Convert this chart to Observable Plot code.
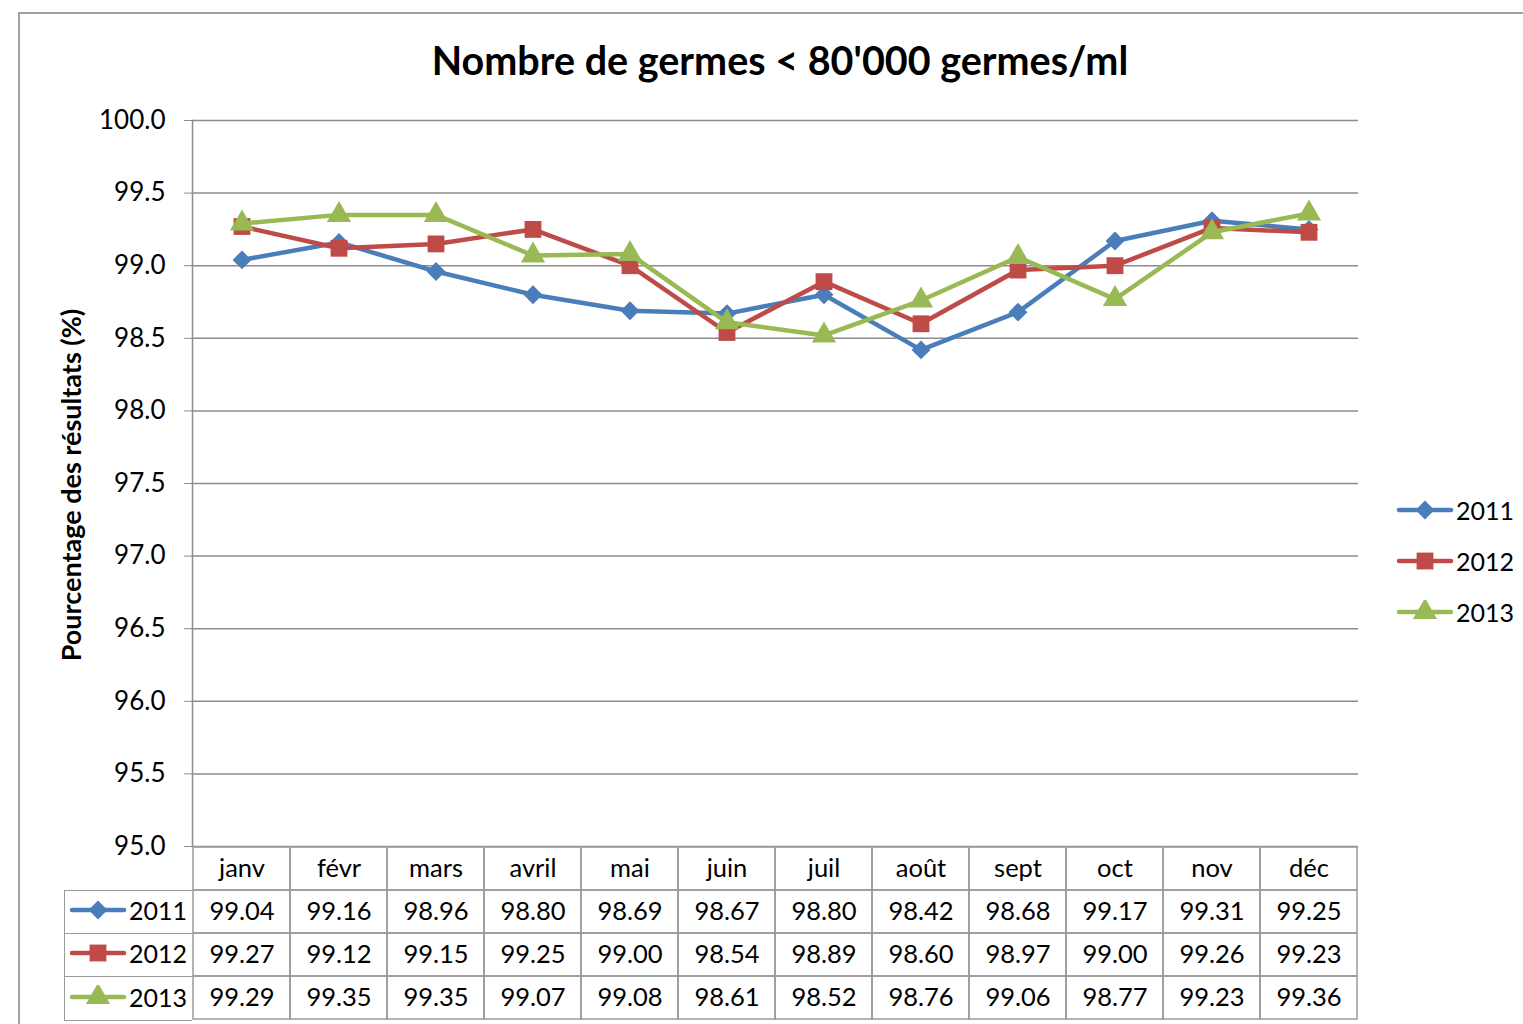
<!DOCTYPE html>
<html><head><meta charset="utf-8">
<script src="https://cdn.jsdelivr.net/npm/d3@7"></script>
<script src="https://cdn.jsdelivr.net/npm/@observablehq/plot@0.6"></script>
<style>
body{margin:0;background:#fff;font-family:Lato,"Open Sans",sans-serif;}
#root{position:relative;width:1523px;height:1024px;overflow:hidden;background:#fff;}
.abs{position:absolute;}
#frame{left:18px;top:12px;width:1600px;height:1100px;border-left:2px solid #a0a0a0;border-top:2px solid #a0a0a0;}
#title{left:0;width:1560px;top:36px;text-align:center;font-weight:bold;font-size:39.5px;color:#000;}
#ylabel{left:70px;top:485px;transform:translate(-50%,-50%) rotate(-90deg);white-space:nowrap;font-weight:bold;font-size:27px;color:#000;}
.key{display:flex;align-items:center;font-size:25px;color:#000;}
#tleft{left:64px;top:890px;width:128px;}
#tleft .key{height:43.5px;box-sizing:border-box;border:1.5px solid #9a9a9a;border-right:none;border-top:none;padding-left:4px;padding-bottom:3px;}
#tleft .key:first-child{border-top:1.5px solid #9a9a9a;}
#legend{left:1396px;top:484px;}
#legend .key{height:51px;}
</style>
</head><body>
<div id="root">
  <div id="frame" class="abs"></div>
  <div id="title" class="abs">Nombre de germes &lt; 80'000 germes/ml</div>
  <div id="ylabel" class="abs">Pourcentage des résultats (%)</div>
  <div id="chart" class="abs" style="left:0;top:0"></div>
  <div id="table" class="abs" style="left:0;top:846px"></div>
  <div id="tleft" class="abs"></div>
  <div id="legend" class="abs"></div>
</div>
<script>
const months = ["janv","févr","mars","avril","mai","juin","juil","août","sept","oct","nov","déc"];
const years = ["2011","2012","2013"];
const v2011 = [99.04,99.16,98.96,98.80,98.69,98.67,98.80,98.42,98.68,99.17,99.31,99.25];
const v2012 = [99.27,99.12,99.15,99.25,99.00,98.54,98.89,98.60,98.97,99.00,99.26,99.23];
const v2013 = [99.29,99.35,99.35,99.07,99.08,98.61,98.52,98.76,99.06,98.77,99.23,99.36];
const yTicks = [95.0,95.5,96.0,96.5,97.0,97.5,98.0,98.5,99.0,99.5,100.0];
const colors = ["#4A7EBB","#BE4B48","#98B954"];
const symbols = ["diamond2","square","triangle"];
const markerR = {"2011":8.5,"2012":9.5,"2013":9};

const seriesValues = [v2011, v2012, v2013];
const data = years.flatMap((yr, i) => months.map((m, j) => ({year: yr, month: m, value: seriesValues[i][j]})));

const seriesMarks = years.flatMap(yr => {
  const d = data.filter(r => r.year === yr);
  return [
    Plot.line(d, {x: "month", y: "value", stroke: "year", strokeWidth: 4.5, strokeLinejoin: "round", strokeLinecap: "round"}),
    Plot.dot(d, {x: "month", y: "value", symbol: "year", fill: "year", stroke: null, r: markerR[yr]})
  ];
});

const chart = Plot.plot({
  width: 1523, height: 848,
  marginTop: 120, marginBottom: 2, marginLeft: 192, marginRight: 165,
  style: {fontFamily: "Lato, 'Open Sans', sans-serif", fontSize: "26px", color: "#000", background: "transparent", overflow: "visible"},
  x: {type: "band", domain: months, padding: 0, axis: null},
  y: {domain: [95, 100], axis: null},
  color: {domain: years, range: colors},
  symbol: {domain: years, range: symbols},
  marks: [
    Plot.ruleY(yTicks, {stroke: "#8c8c8c", strokeWidth: 1.5}),
    Plot.axisY({ticks: yTicks, tickFormat: d => d.toFixed(1), tickSize: 8, tickPadding: 19, stroke: "#8c8c8c", fill: "#000", fontSize: 26, label: null}),
    Plot.frame({anchor: "left", stroke: "#8c8c8c", strokeWidth: 1.5}),
    ...seriesMarks
  ]
});
document.getElementById("chart").appendChild(chart);

const rows = ["mois", ...years];
const cells = [
  ...months.map(m => ({row: "mois", month: m, label: m})),
  ...data.map(d => ({row: d.year, month: d.month, label: d.value.toFixed(2)}))
];
const table = Plot.plot({
  width: 1523, height: 174,
  marginTop: 0, marginBottom: 0, marginLeft: 192, marginRight: 165,
  style: {fontFamily: "Lato, 'Open Sans', sans-serif", fontSize: "25px", color: "#000", background: "transparent", overflow: "visible"},
  x: {type: "band", domain: months, padding: 0, axis: null},
  y: {type: "band", domain: rows, padding: 0, axis: null},
  marks: [
    Plot.cell(cells, {x: "month", y: "row", fill: "none", stroke: "#9a9a9a", strokeWidth: 1.5, inset: 0}),
    Plot.text(cells, {x: "month", y: "row", text: "label", fontSize: 25.5, fill: "#000"})
  ]
});
document.getElementById("table").appendChild(table);

const d3sym = {"diamond2": d3.symbolDiamond2, "square": d3.symbolSquare, "triangle": d3.symbolTriangle};
function keySvg(i) {
  const r = markerR[years[i]];
  const path = d3.symbol(d3sym[symbols[i]], Math.PI * r * r)();
  return `<svg width="58" height="24" style="margin-right:2px"><line x1="3" y1="12" x2="55" y2="12" stroke="${colors[i]}" stroke-width="4.5" stroke-linecap="round"/><path d="${path}" transform="translate(29,12)" fill="${colors[i]}"/></svg>`;
}
document.getElementById("tleft").innerHTML = years.map((yr, i) => `<div class="key">${keySvg(i)}<span>${yr}</span></div>`).join("");
document.getElementById("legend").innerHTML = years.map((yr, i) => `<div class="key">${keySvg(i)}<span>${yr}</span></div>`).join("");
</script>
</body></html>
